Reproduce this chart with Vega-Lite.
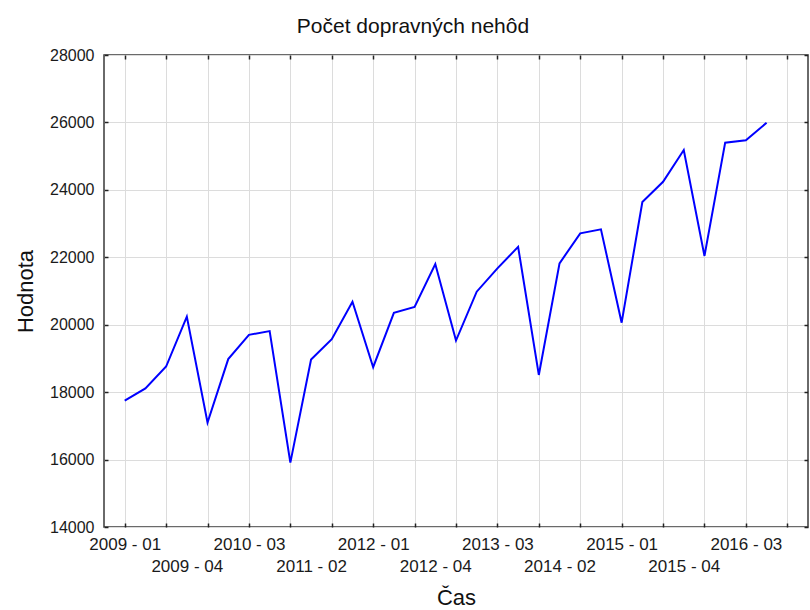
{
  "$schema": "https://vega.github.io/schema/vega-lite/v6.json",
  "width": 704,
  "height": 472,
  "autosize": {"type": "none"},
  "padding": {"left": 104, "top": 55, "right": 2, "bottom": 83},
  "title": {"text": "Počet dopravných nehôd", "fontSize": 21, "font": "Liberation Sans", "fontWeight": "normal", "color": "#111111", "anchor": "middle", "dx": -43, "dy": 23, "offset": 16, "baseline": "alphabetic"},
  "data": {"values": [
    {"t": 0, "period": "2009 - 01", "value": 17750},
    {"t": 1, "period": "2009 - 02", "value": 18110},
    {"t": 2, "period": "2009 - 03", "value": 18760},
    {"t": 3, "period": "2009 - 04", "value": 20240},
    {"t": 4, "period": "2010 - 01", "value": 17100},
    {"t": 5, "period": "2010 - 02", "value": 18980},
    {"t": 6, "period": "2010 - 03", "value": 19700},
    {"t": 7, "period": "2010 - 04", "value": 19810},
    {"t": 8, "period": "2011 - 01", "value": 15910},
    {"t": 9, "period": "2011 - 02", "value": 18970},
    {"t": 10, "period": "2011 - 03", "value": 19570},
    {"t": 11, "period": "2011 - 04", "value": 20680},
    {"t": 12, "period": "2012 - 01", "value": 18740},
    {"t": 13, "period": "2012 - 02", "value": 20350},
    {"t": 14, "period": "2012 - 03", "value": 20530},
    {"t": 15, "period": "2012 - 04", "value": 21800},
    {"t": 16, "period": "2013 - 01", "value": 19530},
    {"t": 17, "period": "2013 - 02", "value": 20980},
    {"t": 18, "period": "2013 - 03", "value": 21670},
    {"t": 19, "period": "2013 - 04", "value": 22310},
    {"t": 20, "period": "2014 - 01", "value": 18510},
    {"t": 21, "period": "2014 - 02", "value": 21820},
    {"t": 22, "period": "2014 - 03", "value": 22710},
    {"t": 23, "period": "2014 - 04", "value": 22830},
    {"t": 24, "period": "2015 - 01", "value": 20060},
    {"t": 25, "period": "2015 - 02", "value": 23640},
    {"t": 26, "period": "2015 - 03", "value": 24240},
    {"t": 27, "period": "2015 - 04", "value": 25180},
    {"t": 28, "period": "2016 - 01", "value": 22040},
    {"t": 29, "period": "2016 - 02", "value": 25400},
    {"t": 30, "period": "2016 - 03", "value": 25470},
    {"t": 31, "period": "2016 - 04", "value": 25990}
  ]},
  "layer": [
    {
      "mark": {"type": "line", "color": "#0000ff", "strokeWidth": 2},
      "encoding": {
        "x": {
          "field": "t", "type": "quantitative",
          "scale": {"domain": [-1, 33], "nice": false, "zero": false},
          "axis": {
            "orient": "bottom",
            "title": "Čas",
            "values": [0, 2, 3, 4, 6, 8, 9, 10, 12, 14, 15, 16, 18, 20, 21, 22, 24, 26, 27, 28, 30, 32],
            "labelExpr": "datum.value % 3 != 0 ? '' : (datum.value % 6 == 0 ? (2009 + floor(datum.value / 4)) + ' - 0' + (datum.value % 4 + 1) : ['', (2009 + floor(datum.value / 4)) + ' - 0' + (datum.value % 4 + 1)])",
            "tickOpacity": {"condition": {"test": "datum.value % 2 == 0", "value": 1}, "value": 0},
            "gridOpacity": {"condition": {"test": "datum.value % 2 == 0", "value": 1}, "value": 0},
            "labelOverlap": false,
            "labelFlush": false,
            "labelBound": false,
            "labelFontSize": 17,
            "labelLineHeight": 22,
            "labelBaseline": "top",
            "labelPadding": 13,
            "titlePadding": 13
          }
        },
        "y": {
          "field": "value", "type": "quantitative",
          "scale": {"domain": [14000, 28000], "nice": false, "zero": false},
          "axis": {
            "orient": "left",
            "title": "Hodnota",
            "values": [14000, 16000, 18000, 20000, 22000, 24000, 26000, 28000],
            "format": "d",
            "labelPadding": 14,
            "titlePadding": 12
          }
        }
      }
    },
    {
      "mark": {"type": "line", "opacity": 0},
      "encoding": {
        "x": {
          "field": "t", "type": "quantitative",
          "scale": {"domain": [-1, 33], "nice": false, "zero": false},
          "axis": {"orient": "top", "title": null, "labels": false, "grid": false, "values": [0, 2, 4, 6, 8, 10, 12, 14, 16, 18, 20, 22, 24, 26, 28, 30, 32]}
        },
        "y": {
          "field": "value", "type": "quantitative",
          "scale": {"domain": [14000, 28000], "nice": false, "zero": false},
          "axis": {"orient": "right", "title": null, "labels": false, "grid": false, "values": [14000, 16000, 18000, 20000, 22000, 24000, 26000, 28000]}
        }
      }
    }
  ],
  "resolve": {"axis": {"x": "independent", "y": "independent"}},
  "config": {
    "background": "white",
    "view": {"stroke": "#3a3a3a", "strokeWidth": 1.5},
    "axis": {
      "domain": false,
      "tickSize": -4,
      "tickColor": "#222222",
      "tickWidth": 1.5,
      "gridColor": "#dcdcdc",
      "gridWidth": 1,
      "labelFont": "Liberation Sans",
      "labelFontSize": 16,
      "labelColor": "#1a1a1a",
      "titleFont": "Liberation Sans",
      "titleFontSize": 22,
      "titleFontWeight": "normal",
      "titleColor": "#111111"
    }
  }
}
